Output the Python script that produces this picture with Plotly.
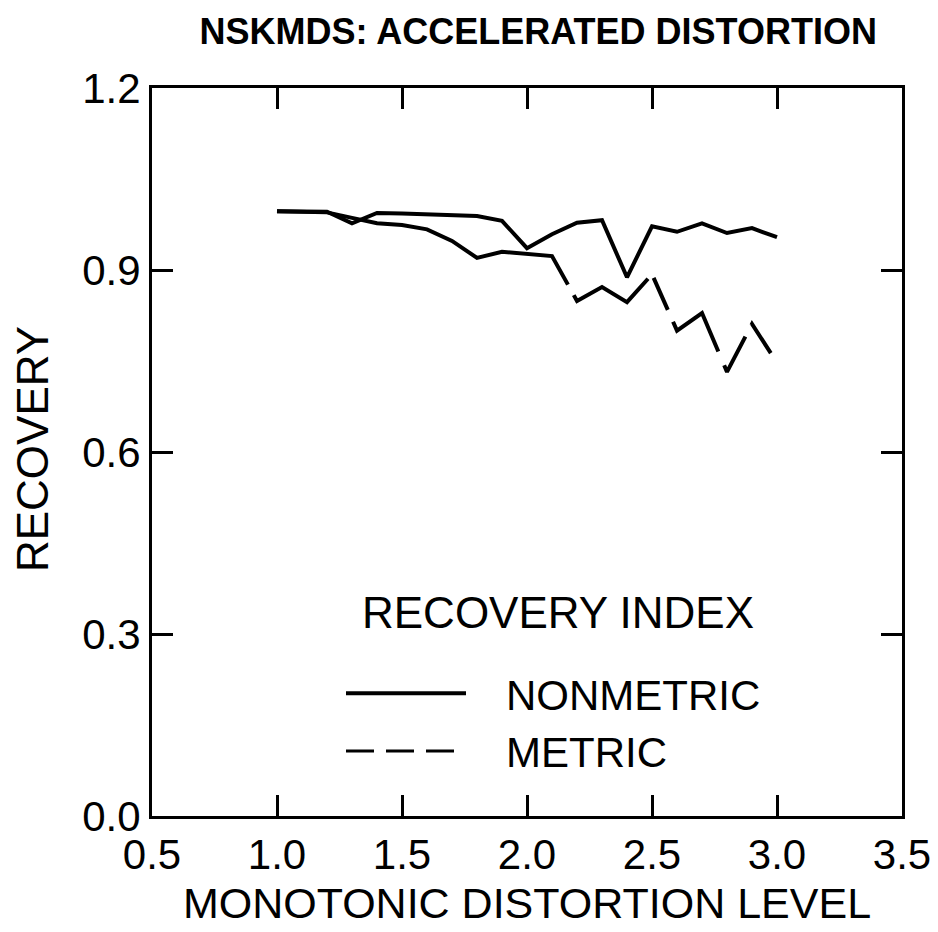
import plotly.graph_objects as go

levels = [1.0, 1.1, 1.2, 1.3, 1.4, 1.5, 1.6, 1.7, 1.8, 1.9, 2.0,
          2.1, 2.2, 2.3, 2.4, 2.5, 2.6, 2.7, 2.8, 2.9, 3.0]
nonmetric = [0.997, 0.997, 0.996, 0.977, 0.994, 0.993, 0.992, 0.991, 0.989, 0.981, 0.936,
             0.959, 0.978, 0.982, 0.888, 0.972, 0.963, 0.977, 0.961, 0.969, 0.954]
metric = [0.997, 0.996, 0.995, 0.986, 0.977, 0.974, 0.967, 0.948, 0.920, 0.930, 0.926,
          0.923, 0.849, 0.872, 0.847, 0.893, 0.800, 0.829, 0.732, 0.811, 0.747]

x_ticks = [0.5, 1.0, 1.5, 2.0, 2.5, 3.0, 3.5]
y_ticks = [0.0, 0.3, 0.6, 0.9, 1.2]

FONT = "Liberation Sans, Arial, sans-serif"
LW = 4
PAD = "\u00a0\u00a0\u00a0"

fig = go.Figure()
fig.add_trace(go.Scatter(x=levels, y=nonmetric, mode="lines", name=PAD + "NONMETRIC",
                         line=dict(color="black", width=LW)))
fig.add_trace(go.Scatter(x=levels, y=metric, mode="lines", name="METRIC", showlegend=False,
                         line=dict(color="black", width=LW,
                                   dash="318px,12px,96px,10px,35px,13px,82px,15px,47px,13px,36px,16px,3px,200px")))
fig.add_trace(go.Scatter(x=[None], y=[None], mode="lines", name=PAD + "METRIC",
                         line=dict(color="black", width=3, dash="28px,12px")))

axis_common = dict(
    showline=True, linecolor="black", linewidth=3, mirror="ticks",
    ticks="inside", ticklen=21, tickwidth=3, tickcolor="black",
    showgrid=False, zeroline=False,
    tickfont=dict(family=FONT, size=42, color="black"),
)

fig.update_layout(
    width=938, height=932,
    margin=dict(l=152, r=36, t=88, b=116, autoexpand=False),
    paper_bgcolor="white", plot_bgcolor="white",
    font=dict(family=FONT, color="black"),
    title=dict(text="<b>NSKMDS: ACCELERATED DISTORTION</b>",
               font=dict(family=FONT, size=36, color="black"),
               x=0.515, xref="paper", xanchor="center",
               y=1 - 31 / 932, yref="container", yanchor="middle"),
    xaxis=dict(range=[0.5, 3.5], tickvals=x_ticks, tickformat=".1f",
               title=dict(text="MONOTONIC DISTORTION LEVEL", standoff=11,
                          font=dict(family=FONT, size=43, color="black")),
               **axis_common),
    yaxis=dict(range=[0.0, 1.2], tickvals=y_ticks, tickformat=".1f",
               **axis_common),
    legend=dict(x=0.252, y=0.215, xanchor="left", yanchor="top",
                bgcolor="rgba(0,0,0,0)", itemwidth=120,
                font=dict(family=FONT, size=42, color="black")),
    showlegend=True,
    annotations=[
        dict(text="RECOVERY", xref="paper", yref="paper",
             x=-0.16, y=0.504, xanchor="center", yanchor="middle", textangle=-90,
             showarrow=False, font=dict(family=FONT, size=44, color="black")),
        dict(text="RECOVERY INDEX", xref="paper", yref="paper",
             x=0.277, y=0.280, xanchor="left", yanchor="middle",
             showarrow=False, font=dict(family=FONT, size=44, color="black")),
    ],
)

fig.write_html("out.html")
